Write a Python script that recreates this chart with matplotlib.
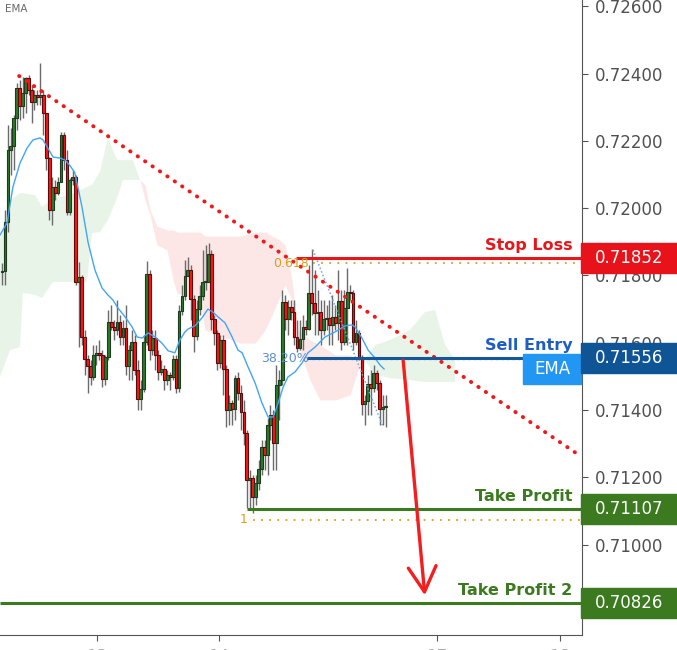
import matplotlib
matplotlib.use('Agg')
import matplotlib.pyplot as plt
import matplotlib.transforms as mtransforms
from matplotlib.patches import Rectangle
import numpy as np

# candles (open of each candle = close of the one before)
first_open = 0.71810
closes = [0.71813, 0.71959, 0.72173, 0.72185, 0.72268, 0.72357, 0.72304, 0.72342, 0.72387, 0.72351,
          0.72316, 0.72337, 0.72331, 0.72337, 0.72283, 0.72149, 0.71995, 0.72063, 0.72045, 0.72078,
          0.72218, 0.72143, 0.71989, 0.72084, 0.72093, 0.71781, 0.71796, 0.71617, 0.71552, 0.71531,
          0.71498, 0.71564, 0.71570, 0.71564, 0.71492, 0.71558, 0.71662, 0.71647, 0.71638, 0.71662,
          0.71617, 0.71644, 0.71531, 0.71578, 0.71602, 0.71519, 0.71433, 0.71462, 0.71602, 0.71804,
          0.71578, 0.71614, 0.71564, 0.71513, 0.71522, 0.71489, 0.71504, 0.71498, 0.71552, 0.71465,
          0.71694, 0.71739, 0.71798, 0.71816, 0.71730, 0.71620, 0.71700, 0.71739, 0.71781, 0.71782,
          0.71864, 0.71671, 0.71629, 0.71540, 0.71608, 0.71522, 0.71400, 0.71421, 0.71403, 0.71495,
          0.71451, 0.71394, 0.71332, 0.71192, 0.71198, 0.71141, 0.71183, 0.71225, 0.71290, 0.71266,
          0.71355, 0.71385, 0.71302, 0.71474, 0.71489, 0.71721, 0.71671, 0.71706, 0.71691, 0.71617,
          0.71584, 0.71611, 0.71647, 0.71641, 0.71748, 0.71718, 0.71688, 0.71691, 0.71638, 0.71671,
          0.71674, 0.71653, 0.71677, 0.71659, 0.71724, 0.71602, 0.71703, 0.71751, 0.71748, 0.71602,
          0.71629, 0.71558, 0.71418, 0.71427, 0.71477, 0.71465, 0.71510, 0.71480, 0.71403, 0.71409,
          0.71410]
highs = [0.71837, 0.71995, 0.72247, 0.72238, 0.72277, 0.72372, 0.72381, 0.72390, 0.72390, 0.72396,
         0.72366, 0.72351, 0.72351, 0.72432, 0.72351, 0.72283, 0.72152, 0.72093, 0.72084, 0.72093,
         0.72227, 0.72227, 0.72173, 0.72090, 0.72114, 0.72099, 0.71840, 0.71801, 0.71638, 0.71564,
         0.71549, 0.71593, 0.71593, 0.71608, 0.71578, 0.71564, 0.71697, 0.71712, 0.71668, 0.71727,
         0.71682, 0.71668, 0.71712, 0.71593, 0.71638, 0.71623, 0.71549, 0.71489, 0.71623, 0.71843,
         0.71816, 0.71638, 0.71638, 0.71578, 0.71549, 0.71534, 0.71519, 0.71513, 0.71564, 0.71564,
         0.71712, 0.71772, 0.71846, 0.71855, 0.71831, 0.71742, 0.71727, 0.71772, 0.71876, 0.71891,
         0.71897, 0.71876, 0.71682, 0.71638, 0.71623, 0.71623, 0.71534, 0.71445, 0.71430, 0.71504,
         0.71513, 0.71474, 0.71430, 0.71341, 0.71222, 0.71207, 0.71207, 0.71251, 0.71311, 0.71311,
         0.71376, 0.71415, 0.71400, 0.71534, 0.71519, 0.71757, 0.71742, 0.71727, 0.71727, 0.71727,
         0.71668, 0.71668, 0.71682, 0.71668, 0.71831, 0.71879, 0.71816, 0.71757, 0.71727, 0.71727,
         0.71712, 0.71727, 0.71742, 0.71712, 0.71816, 0.71757, 0.71757, 0.71822, 0.71772, 0.71757,
         0.71668, 0.71638, 0.71564, 0.71445, 0.71504, 0.71519, 0.71534, 0.71519, 0.71489, 0.71445,
         0.71445]
lows = [0.71772, 0.71772, 0.71929, 0.72099, 0.72114, 0.72232, 0.72262, 0.72268, 0.72283, 0.72337,
        0.72253, 0.72292, 0.72307, 0.72307, 0.72218, 0.72114, 0.71965, 0.71950, 0.72024, 0.72039,
        0.72084, 0.72114, 0.71980, 0.71980, 0.72069, 0.71772, 0.71587, 0.71593, 0.71504, 0.71451,
        0.71474, 0.71489, 0.71534, 0.71549, 0.71468, 0.71474, 0.71549, 0.71638, 0.71608, 0.71623,
        0.71593, 0.71593, 0.71504, 0.71489, 0.71489, 0.71504, 0.71400, 0.71400, 0.71454, 0.71593,
        0.71549, 0.71564, 0.71519, 0.71489, 0.71504, 0.71460, 0.71474, 0.71460, 0.71489, 0.71451,
        0.71454, 0.71682, 0.71727, 0.71801, 0.71668, 0.71572, 0.71608, 0.71682, 0.71727, 0.71757,
        0.71816, 0.71638, 0.71593, 0.71519, 0.71525, 0.71445, 0.71349, 0.71355, 0.71355, 0.71370,
        0.71430, 0.71341, 0.71296, 0.71109, 0.71103, 0.71094, 0.71118, 0.71162, 0.71207, 0.71222,
        0.71207, 0.71311, 0.71222, 0.71222, 0.71370, 0.71474, 0.71638, 0.71623, 0.71668, 0.71593,
        0.71572, 0.71578, 0.71578, 0.71623, 0.71638, 0.71682, 0.71623, 0.71623, 0.71593, 0.71623,
        0.71638, 0.71593, 0.71593, 0.71638, 0.71608, 0.71578, 0.71593, 0.71593, 0.71727, 0.71578,
        0.71593, 0.71549, 0.71385, 0.71355, 0.71385, 0.71385, 0.71454, 0.71460, 0.71355, 0.71355,
        0.71349]

# ichimoku cloud (span A / span B), x in candle index
cloud_x = [-0.7, 2.7, 6.1, 7.1, 11.2, 13.6, 17.3, 23.0, 28.8, 30.5, 33.2, 35.9, 39.0, 41.0, 44.4,
           46.8, 48.5, 50.2, 52.5, 55.9, 58.0, 59.3, 67.1, 68.8, 80.7, 85.8, 89.2, 94.2, 95.9,
           98.3, 100.3, 104.4, 107.8, 112.9, 118.0, 120.7, 123.0, 126.4, 131.5, 138.3, 143.4,
           146.8, 150.2, 153.6]
span_a = [0.71905, 0.72024, 0.72045, 0.72045, 0.72039, 0.72004, 0.72030, 0.72039, 0.72063, 0.72069,
          0.72108, 0.72209, 0.72143, 0.72143, 0.72143, 0.72084, 0.72024, 0.71980, 0.71891, 0.71876,
          0.71787, 0.71748, 0.71727, 0.71638, 0.71599, 0.71599, 0.71638, 0.71736, 0.71772, 0.71727,
          0.71593, 0.71489, 0.71430, 0.71430, 0.71445, 0.71519, 0.71549, 0.71593, 0.71608, 0.71638,
          0.71691, 0.71697, 0.71593, 0.71549]
span_b = [0.71498, 0.71578, 0.71587, 0.71748, 0.71742, 0.71733, 0.71781, 0.71781, 0.71781, 0.71926,
          0.71929, 0.71965, 0.72030, 0.72084, 0.72084, 0.72084, 0.72069, 0.71995, 0.71947, 0.71935,
          0.71935, 0.71929, 0.71929, 0.71917, 0.71917, 0.71929, 0.71929, 0.71905, 0.71891, 0.71787,
          0.71638, 0.71608, 0.71593, 0.71564, 0.71564, 0.71549, 0.71549, 0.71504, 0.71495, 0.71489,
          0.71483, 0.71483, 0.71483, 0.71483]

# EMA
ema_x = [-0.7, 1.7, 3.7, 6.1, 8.5, 10.5, 12.9, 13.9, 15.3, 17.3, 19.7, 21.4, 23.1, 24.7, 27.1,
         29.2, 31.5, 33.9, 35.9, 37.6, 39.3, 41.7, 44.1, 45.8, 47.5, 49.5, 51.9, 54.2, 56.3, 58.6,
         60.3, 62.0, 63.1, 65.4, 67.8, 69.8, 71.5, 73.2, 75.6, 78.0, 80.0, 81.4, 83.4, 85.8, 88.1,
         90.2, 91.9, 93.6, 95.3, 96.9, 99.3, 101.7, 103.7, 106.1, 109.5, 112.9, 116.3, 118.6,
         119.7, 122.0, 124.1, 126.4, 128.1, 129.5]
ema_y = [0.71920, 0.71956, 0.72063, 0.72134, 0.72179, 0.72203, 0.72209, 0.72203, 0.72182, 0.72152,
         0.72149, 0.72143, 0.72126, 0.72105, 0.72004, 0.71897, 0.71816, 0.71763, 0.71742, 0.71727,
         0.71703, 0.71677, 0.71647, 0.71617, 0.71614, 0.71629, 0.71617, 0.71599, 0.71576, 0.71570,
         0.71608, 0.71632, 0.71641, 0.71650, 0.71674, 0.71700, 0.71691, 0.71677, 0.71659, 0.71617,
         0.71578, 0.71570, 0.71528, 0.71480, 0.71421, 0.71379, 0.71379, 0.71421, 0.71468, 0.71498,
         0.71513, 0.71540, 0.71570, 0.71587, 0.71617, 0.71632, 0.71650, 0.71653, 0.71647, 0.71614,
         0.71578, 0.71555, 0.71534, 0.71522]

# trade levels
stop_loss = 0.71852
sell_entry = 0.71556
take_profit = 0.71107
take_profit2 = 0.70826
fib_levels = {'0.618': 0.71837, '38.20%': 0.71556, '1': 0.71073}

trend_x = [5.8, 196.6]
trend_y = [0.72393, 0.71260]
fib_trend_x = [105.4, 129.2]
fib_trend_y = [0.71876, 0.71349]

date_ticks = [32.2, 73.6, 147.5, 189.2]
date_labels = ['13', '14', '17', '18']

YMIN, YMAX = 0.70731, 0.72619
XMIN, XMAX = -0.68, 196.6


def plot():
    fig = plt.figure(figsize=(6.77, 6.5), dpi=100)
    ax = fig.add_axes([0, 15 / 650, 582 / 677, 635 / 650])
    ax.set_xlim(XMIN, XMAX)
    ax.set_ylim(YMIN, YMAX)

    # cloud
    a = np.array(span_a)
    b = np.array(span_b)
    ax.fill_between(cloud_x, a, b, where=a >= b, interpolate=True,
                    color='#e9f4e9', lw=0, zorder=1)
    ax.fill_between(cloud_x, a, b, where=a <= b, interpolate=True,
                    color='#fde6e6', lw=0, zorder=1)

    # candles
    opens = [first_open] + closes[:-1]
    idx = np.arange(len(closes))
    ax.vlines(idx, lows, highs, color='#6a6a6a', lw=1, zorder=3)
    for i, (o, c) in enumerate(zip(opens, closes)):
        up = c >= o
        h = max(abs(c - o), 0.00002)
        ax.bar(i, h, bottom=min(o, c), width=0.95,
               color='#2a7a2a' if up else '#ff1414',
               edgecolor='#1d3b1d' if up else '#5a0a0a', lw=0.8, zorder=4)

    ax.plot(ema_x, ema_y, color='#42a5f5', lw=1, zorder=5)

    # trend lines
    ax.plot(trend_x, trend_y, color='#f01818', lw=2.8,
            linestyle=(0, (0.1, 2.2)), dash_capstyle='round', zorder=6)
    ax.plot(fib_trend_x, fib_trend_y, color='#6fa8dc', lw=1.1,
            linestyle=(0, (1, 1.5)), zorder=6)

    # fib levels
    ax.hlines(fib_levels['0.618'], 105.3, XMAX, color='#d4a020', lw=1.3,
              linestyles=(0, (1, 3.5)), zorder=6)
    ax.hlines(fib_levels['38.20%'] - 0.00003, 103.4, XMAX, color='#5b8fd0', lw=1.0,
              linestyles=(0, (1, 3)), zorder=6)
    ax.hlines(fib_levels['1'], 85.1, XMAX, color='#d4a020', lw=1.3,
              linestyles=(0, (1, 3.5)), zorder=6)
    ax.text(104.0, fib_levels['0.618'], '0.618', color='#d4a020', fontsize=9,
            ha='right', va='center', zorder=9)
    ax.text(104.0, fib_levels['38.20%'] - 0.00004, '38.20%', color='#5b8fd0', fontsize=9,
            ha='right', va='center', zorder=6.5)
    ax.text(83.3, fib_levels['1'], '1', color='#d4a020', fontsize=9,
            ha='right', va='center', zorder=9)

    # trade lines
    levels = [
        (stop_loss, 99.7, '#e8151b', '#e8151b', 'Stop Loss', '#e8121a'),
        (sell_entry, 103.4, '#14579a', '#1f5cc4', 'Sell Entry', '#0f5596'),
        (take_profit, 83.0, '#3b7a1e', '#3b7a1e', 'Take Profit', '#3b7a1e'),
        (take_profit2, XMIN, '#3b7a1e', '#3b7a1e', 'Take Profit 2', '#3b7a1e'),
    ]
    trans = mtransforms.blended_transform_factory(fig.transFigure, ax.transData)
    box_h = 30 * (YMAX - YMIN) / 635
    for price, start, lc, tc, label, bc in levels:
        ax.hlines(price, start, XMAX, color=lc, lw=2.2, zorder=7)
        ax.annotate(label, xy=(1, price), xycoords=('axes fraction', 'data'),
                    xytext=(-7, 5.5), textcoords='offset points', ha='right',
                    va='baseline', color=tc, fontsize=11.5, fontweight='bold', zorder=8)
        ax.add_patch(Rectangle((581 / 677, price - box_h / 2), 96 / 677, box_h,
                               transform=trans, color=bc, clip_on=False, zorder=10))
        ax.text(629 / 677, price, f'{price:.5f}', transform=trans, color='white',
                fontsize=12, ha='center', va='center', clip_on=False, zorder=11)

    # EMA tag
    ema_tag = 0.71522
    ax.add_patch(Rectangle((523 / 677, ema_tag - box_h / 2), 58 / 677, box_h,
                           transform=trans, color='#2196f3', clip_on=False, zorder=9))
    ax.text(552 / 677, ema_tag, 'EMA', transform=trans, color='white',
            fontsize=12, ha='center', va='center', zorder=9)

    # arrow
    ax.annotate('', xy=(143.4, 0.70841), xytext=(135.9, 0.71555),
                arrowprops=dict(arrowstyle='->, head_length=0.9, head_width=0.5',
                                color='#f51d1d', lw=2.4, mutation_scale=20), zorder=8)

    fig.text(5 / 677, 1 - 9 / 650, 'EMA', color='#666666', fontsize=7.5, va='center')

    # axes
    ax.yaxis.tick_right()
    ax.set_yticks(np.arange(0.708, 0.7261, 0.002))
    ax.set_yticklabels([f'{v:.5f}' for v in np.arange(0.708, 0.7261, 0.002)])
    ax.tick_params(axis='y', colors='#555555', labelsize=12, length=4, pad=5)
    ax.tick_params(axis='y', labelcolor='#505050')
    ax.set_xticks(date_ticks)
    ax.set_xticklabels(date_labels)
    ax.tick_params(axis='x', colors='#555555', labelcolor='#aaaaaa', labelsize=12,
                   length=4, pad=5)
    for s in ['top', 'left']:
        ax.spines[s].set_visible(False)
    for s in ['right', 'bottom']:
        ax.spines[s].set_color('#555555')

    fig.savefig('out.png', dpi=100)


def main():
    plot()


if __name__ == '__main__':
    main()
